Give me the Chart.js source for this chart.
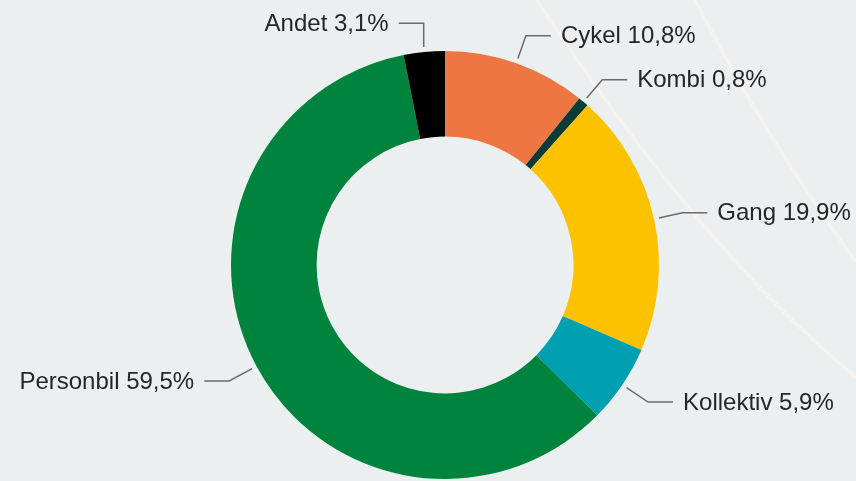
<!DOCTYPE html>
<html>
<head>
<meta charset="utf-8">
<script src="https://cdn.jsdelivr.net/npm/chart.js@4/dist/chart.umd.min.js"></script>
<style>
  html, body { margin: 0; padding: 0; background: #ebeff0; }
  canvas { display: block; }
</style>
</head>
<body>
<canvas id="modeChart" width="856" height="481"></canvas>
<script>
// Transportmiddelfordeling
const labels = ["Cykel", "Kombi", "Gang", "Kollektiv", "Personbil", "Andet"];
const shares = [10.8, 0.8, 19.9, 5.9, 59.5, 3.1];
const colors = ["#ed7642", "#0a3c37", "#fcc200", "#00a0b0", "#00843d", "#000000"];

// faint decorative curves in the background
const backdropCurves = {
  id: "backdropCurves",
  beforeDraw(chart) {
    const c = chart.ctx;
    c.save();
    c.strokeStyle = "#f6f4f1";
    c.lineWidth = 3.5;
    c.beginPath();
    c.moveTo(537, 0);
    c.quadraticCurveTo(703, 253, 856, 377);
    c.stroke();
    c.beginPath();
    c.moveTo(695, 0);
    c.quadraticCurveTo(766, 139, 856, 262);
    c.stroke();
    c.restore();
  },
};

// labels with crooked connector lines
const sliceLabels = {
  id: "sliceLabels",
  afterDraw(chart) {
    const c = chart.ctx;
    const arcs = chart.getDatasetMeta(0).data;
    c.save();
    c.font = '24px "Liberation Sans", Arial, sans-serif';
    c.textBaseline = "middle";
    arcs.forEach((arc, i) => {
      const p = arc.getProps(["x", "y", "startAngle", "endAngle", "outerRadius"], true);
      const a = (p.startAngle + p.endAngle) / 2;
      const cos = Math.cos(a), sin = Math.sin(a);
      const right = cos >= 0;
      const ax = p.x + (p.outerRadius + 5) * cos;
      const ay = p.y + (p.outerRadius + 5) * sin;
      // lower labels sit a little further out
      const R = p.outerRadius + (sin > 0 ? 31 : 29);
      const ly = p.y + R * sin;
      const dy = ly - p.y;
      let bx = p.x + (right ? 1 : -1) * Math.sqrt(Math.max(R * R - dy * dy, 0));
      if (Math.abs(cos) < 0.2) bx = ax;
      const ex = bx + (right ? 25 : -25);

      c.strokeStyle = "#6b6b6b";
      c.lineWidth = 1.5;
      c.beginPath();
      c.moveTo(ax, ay);
      c.lineTo(bx, ly);
      c.lineTo(ex, ly);
      c.stroke();

      const txt = labels[i] + " " + shares[i].toFixed(1).replace(".", ",") + "%";
      c.fillStyle = "#262626";
      c.textAlign = right ? "left" : "right";
      c.fillText(txt, ex + (right ? 10 : -10), ly + 1);
    });
    c.restore();
  },
};

new Chart(document.getElementById("modeChart").getContext("2d"), {
  type: "doughnut",
  data: {
    labels: labels,
    datasets: [
      {
        data: shares,
        backgroundColor: colors,
        borderWidth: 0,
      },
    ],
  },
  options: {
    responsive: false,
    animation: false,
    cutout: "60%",
    layout: {
      padding: { top: 51, bottom: 2, left: 34, right: 0 },
    },
    plugins: {
      legend: { display: false },
      tooltip: { enabled: false },
    },
  },
  plugins: [backdropCurves, sliceLabels],
});
</script>
</body>
</html>
